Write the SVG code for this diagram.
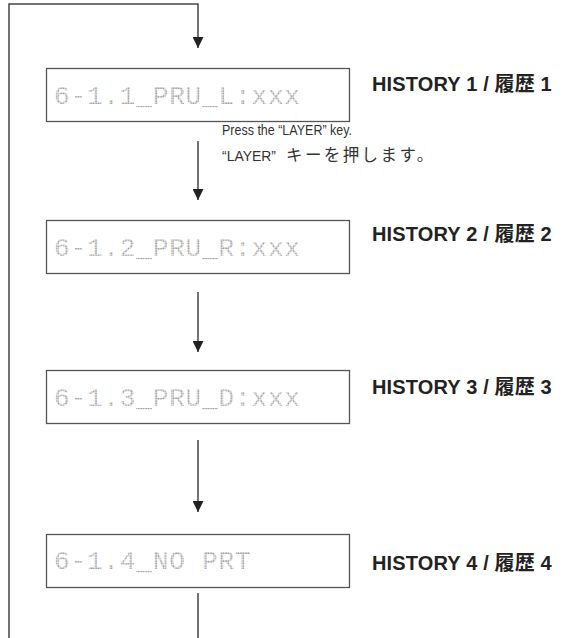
<svg xmlns="http://www.w3.org/2000/svg" width="562" height="638" viewBox="0 0 562 638">
<style>
.box{fill:#fff;stroke:#555;stroke-width:1.3}
.lcd{font-family:"Liberation Mono",monospace;font-size:26px;letter-spacing:0.85px;fill:url(#dots)}
.lbl{font-family:"Liberation Sans","Noto Sans CJK JP",sans-serif;font-weight:bold;font-size:20px;letter-spacing:0.15px;fill:#222}
.note{font-family:"Liberation Sans","Noto Sans CJK JP",sans-serif;font-size:14px;fill:#333}
.jp{font-family:"Noto Sans CJK JP",sans-serif;font-size:16.5px;letter-spacing:2.4px}
.ln{fill:none;stroke:#444;stroke-width:1.5}
</style>
<defs>
<pattern id="dots" width="2.5" height="2.5" patternUnits="userSpaceOnUse">
<rect x="0.3" y="0.3" width="1.7" height="1.7" fill="#888"/>
</pattern>
<marker id="ah" viewBox="0 0 11 11" refX="11" refY="5.5" markerWidth="11" markerHeight="11" markerUnits="userSpaceOnUse" orient="auto">
<path d="M0,0 L11,5.5 L0,11 Z" fill="#222"/>
</marker>
</defs>
<g id="connectors">
<path class="ln" d="M198,638 L198,593"/>
<path class="ln" d="M9,638 L9,4 L198,4 L198,48" marker-end="url(#ah)" style="stroke-linejoin:miter"/>
<path class="ln" d="M198,141 L198,200" marker-end="url(#ah)"/>
<path class="ln" d="M198,292 L198,352" marker-end="url(#ah)"/>
<path class="ln" d="M198,440 L198,512" marker-end="url(#ah)"/>
</g>
<g id="note">
<text class="note" x="222" y="135" textLength="130" lengthAdjust="spacingAndGlyphs">Press the “LAYER” key.</text>
<text class="note" x="222" y="161"><tspan textLength="54" lengthAdjust="spacingAndGlyphs">“LAYER”</tspan><tspan class="jp" x="286">キーを押します。</tspan></text>
</g>
<g id="history1">
<rect class="box" x="46.5" y="68.5" width="303" height="53"/>
<text class="lcd" x="54" y="104">6-1.1_PRU_L:xxx</text>
<text class="lbl" x="372" y="91">HISTORY 1 / 履歴 1</text>
</g>
<g id="history2">
<rect class="box" x="46.5" y="220.5" width="303" height="53"/>
<text class="lcd" x="54" y="256">6-1.2_PRU_R:xxx</text>
<text class="lbl" x="372" y="241">HISTORY 2 / 履歴 2</text>
</g>
<g id="history3">
<rect class="box" x="46.5" y="370.5" width="303" height="53"/>
<text class="lcd" x="54" y="406">6-1.3_PRU_D:xxx</text>
<text class="lbl" x="372" y="394">HISTORY 3 / 履歴 3</text>
</g>
<g id="history4">
<rect class="box" x="46.5" y="534.5" width="303" height="53"/>
<text class="lcd" x="54" y="569">6-1.4_NO PRT</text>
<text class="lbl" x="372" y="570">HISTORY 4 / 履歴 4</text>
</g>
</svg>
